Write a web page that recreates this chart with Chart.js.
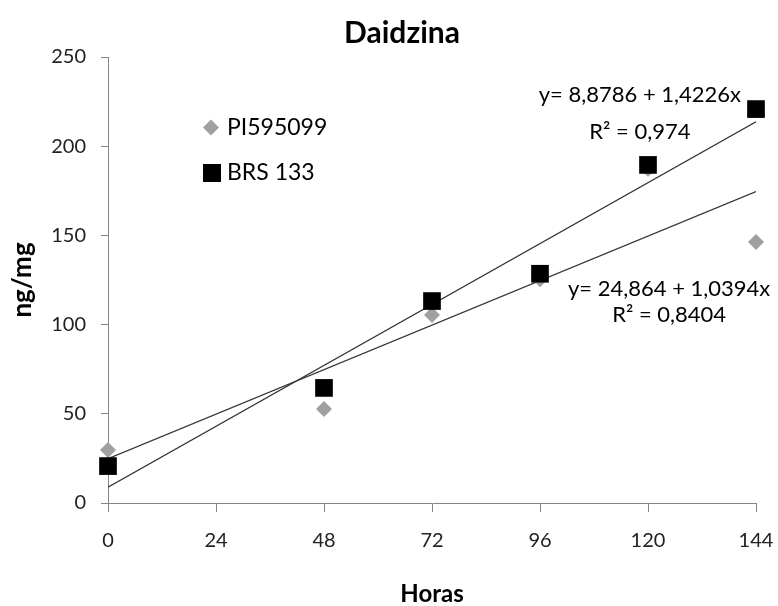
<!DOCTYPE html>
<html>
<head>
<meta charset="utf-8">
<script src="https://cdn.jsdelivr.net/npm/chart.js@4.4.0/dist/chart.umd.min.js"></script>
<style>
  body { margin: 0; background: #fff; }
  canvas { display: block; }
</style>
</head>
<body>
<canvas id="canvas" width="778" height="606"></canvas>
<script>
const horas = [0, 48, 72, 96, 120, 144];
const pi595099 = [29.7, 52.7, 105.4, 125.4, 187.3, 146.3];
const brs133 = [20.7, 64.5, 113.2, 128.5, 189.5, 220.8];
const xTicks = [0, 24, 48, 72, 96, 120, 144];
// trend line ends (x = 0 and x = 144), from the equations printed on the chart
const trendX = [0, 144];
const trendBrs = [8.88, 213.73];
const trendPi = [24.86, 174.54];

const FONT = 'Lato, "Open Sans", sans-serif';

function pts(xs, ys) {
    return xs.map((x, i) => ({ x: x, y: ys[i] }));
}

// title, legend and regression labels drawn straight on the canvas
const extras = {
    id: 'extras',
    afterDraw(chart) {
        const ctx = chart.ctx;
        const xs = chart.scales.x, ys = chart.scales.y;
        ctx.save();
        ctx.fillStyle = '#000';
        ctx.textBaseline = 'middle';
        ctx.textAlign = 'center';
        ctx.font = 'bold 30px ' + FONT;
        ctx.fillText('Daidzina', 402, 33);

        // legend
        ctx.fillStyle = '#a0a0a0';
        ctx.beginPath();
        ctx.moveTo(211, 119.5); ctx.lineTo(219, 127.5); ctx.lineTo(211, 135.5); ctx.lineTo(203, 127.5);
        ctx.closePath();
        ctx.fill();
        ctx.fillStyle = '#000';
        ctx.fillRect(203, 164, 18, 18);
        ctx.textAlign = 'left';
        ctx.font = '23px ' + FONT;
        ctx.fillText('PI595099', 227, 128);
        ctx.fillText('BRS 133', 227, 173);

        // equations
        ctx.textAlign = 'center';
        ctx.font = '22px ' + FONT;
        ctx.fillText('y= 8,8786 + 1,4226x', xs.getPixelForValue(118.2), ys.getPixelForValue(228.5));
        ctx.fillText('R² = 0,974', xs.getPixelForValue(118.2), ys.getPixelForValue(208));
        ctx.fillText('y= 24,864 + 1,0394x', xs.getPixelForValue(124.7), ys.getPixelForValue(120));
        ctx.fillText('R² = 0,8404', xs.getPixelForValue(124.7), ys.getPixelForValue(105.4));
        ctx.restore();
    }
};

const ctx = document.getElementById('canvas').getContext('2d');
const myChart = new Chart(ctx, {
    type: 'scatter',
    data: {
        datasets: [{
            label: 'BRS 133',
            data: pts(horas, brs133),
            pointStyle: 'rect',
            pointRadius: 12.5,
            pointHoverRadius: 12.5,
            backgroundColor: '#000',
            borderWidth: 0,
            clip: false,
            order: 0
        },
        {
            label: 'PI595099',
            data: pts(horas, pi595099),
            pointStyle: 'rectRot',
            pointRadius: 8,
            pointHoverRadius: 8,
            backgroundColor: '#a0a0a0',
            borderWidth: 0,
            clip: false,
            order: 1
        },
        {
            label: 'trend BRS 133',
            type: 'line',
            data: pts(trendX, trendBrs),
            borderColor: '#333',
            borderWidth: 1.3,
            pointRadius: 0,
            fill: false,
            order: 2
        },
        {
            label: 'trend PI595099',
            type: 'line',
            data: pts(trendX, trendPi),
            borderColor: '#333',
            borderWidth: 1.3,
            pointRadius: 0,
            fill: false,
            order: 2
        }]
    },
    options: {
        responsive: false,
        animation: false,
        events: [],
        layout: { padding: { top: 57, right: 22, left: 0, bottom: 0 } },
        plugins: {
            legend: { display: false },
            title: { display: false },
            tooltip: { enabled: false }
        },
        scales: {
            x: {
                type: 'linear',
                min: 0,
                max: 144,
                afterBuildTicks: s => { s.ticks = xTicks.map(v => ({ value: v })); },
                afterFit: s => { s.height = 103; s.paddingLeft = 0; s.paddingRight = 0; },
                border: { color: '#868686', width: 1 },
                grid: { drawOnChartArea: false, tickLength: 9, color: '#868686' },
                ticks: { color: '#222', font: { family: FONT, size: 20 }, padding: 17, maxRotation: 0 },
                title: {
                    display: true,
                    text: 'Horas',
                    color: '#000',
                    font: { family: FONT, size: 24, weight: 'bold', lineHeight: 1 },
                    padding: { top: 0, bottom: 0 }
                }
            },
            y: {
                min: 0,
                max: 250,
                afterFit: s => { s.width = 108; s.paddingTop = 0; s.paddingBottom = 0; },
                border: { color: '#868686', width: 1 },
                grid: { drawOnChartArea: false, tickLength: 7, color: '#868686' },
                ticks: { stepSize: 50, color: '#222', font: { family: FONT, size: 20 }, padding: 15 },
                title: {
                    display: true,
                    text: 'ng/mg',
                    color: '#000',
                    font: { family: FONT, size: 26, weight: 'bold', lineHeight: 1 },
                    padding: { top: 10, bottom: 0 }
                }
            }
        }
    },
    plugins: [extras]
});
</script>
</body>
</html>
